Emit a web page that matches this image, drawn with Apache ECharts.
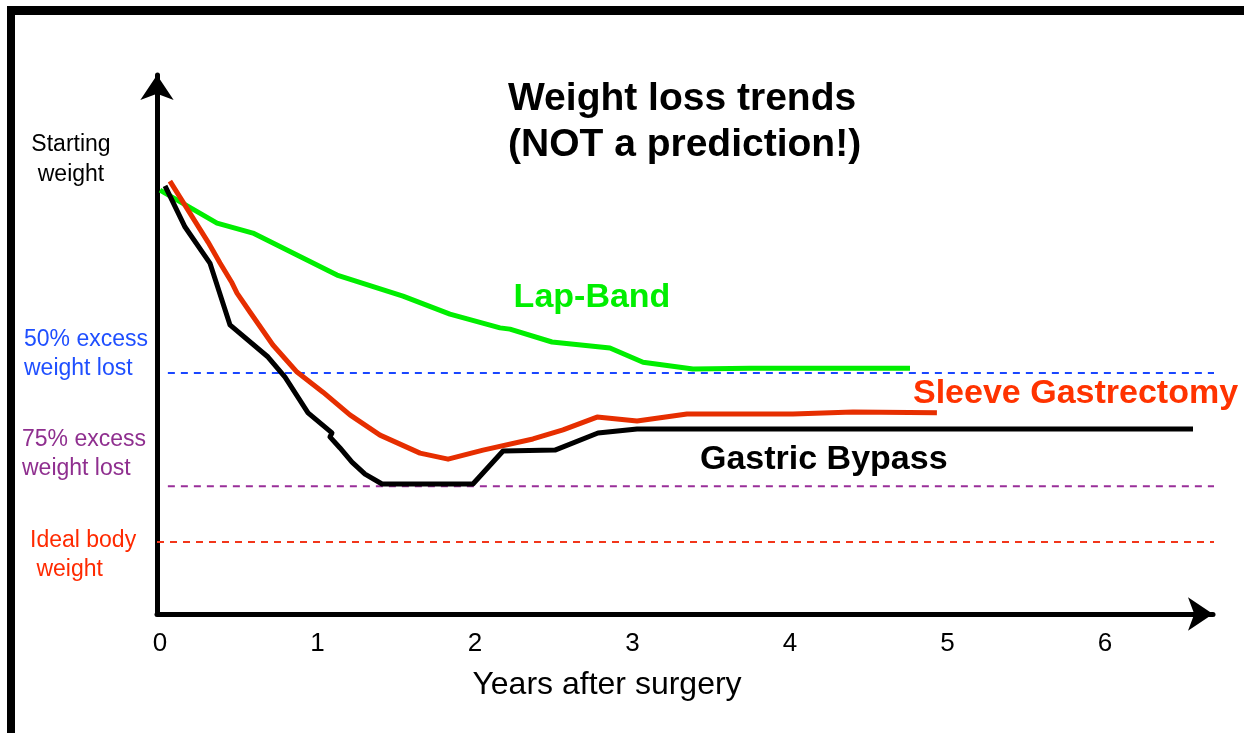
<!DOCTYPE html>
<html><head><meta charset="utf-8">
<script src="https://cdn.jsdelivr.net/npm/echarts@6/dist/echarts.min.js"></script>
<style>html,body{margin:0;padding:0;background:#fff}#c{width:1244px;height:733px}</style>
</head><body><div id="c"></div>
<script>
// ---- data (x: years after surgery, y: relative weight, starting weight ≈ 100) ----
const xTicks = [0, 1, 2, 3, 4, 5, 6];

const lapBandYears  = [0, 0.362, 0.590, 1.124, 1.543, 1.841, 2.159, 2.222, 2.489, 2.857, 3.067, 3.384, 3.746, 4.762];
const lapBandWeight = [98.8, 91.1, 88.8, 79.0, 74.1, 69.9, 66.7, 66.4, 63.4, 62.0, 58.7, 57.1, 57.3, 57.3];

const sleeveYears  = [0.063, 0.305, 0.381, 0.457, 0.489, 0.571, 0.717, 0.870, 1.035, 1.206, 1.397, 1.651, 1.829, 2.051, 2.368, 2.559, 2.775, 3.029, 3.346, 4.019, 4.400, 4.933];
const sleeveWeight = [100.9, 86.7, 81.8, 77.2, 74.8, 70.4, 62.7, 56.4, 51.7, 46.4, 41.7, 37.5, 36.1, 38.2, 40.8, 42.9, 45.9, 45.0, 46.6, 46.6, 47.1, 46.9];

const bypassYears  = [0.032, 0.159, 0.317, 0.444, 0.686, 0.794, 0.940, 1.092, 1.079, 1.143, 1.219, 1.302, 1.410, 1.987, 2.178, 2.508, 2.781, 3.029, 6.559];
const bypassWeight = [99.8, 90.2, 81.8, 67.4, 59.9, 55.2, 46.9, 42.2, 41.3, 38.7, 35.4, 32.6, 30.3, 30.3, 38.0, 38.2, 42.2, 43.1, 43.1];

const refNames  = ['50% excess weight lost', '75% excess weight lost', 'Ideal body weight'];
const refValues = [56.2, 29.8, 16.8];
const refStart  = [0.05, 0.05, -0.019];
const refEnd    = [6.70, 6.70, 6.70];

const seriesNames = ['Lap-Band', 'Sleeve Gastrectomy', 'Gastric Bypass'];

// ---- styles ----
const FONT = "'Liberation Sans', Arial, Helvetica, sans-serif";
const C_GREEN = '#00ee00', C_RED = '#e62e00', C_BLACK = '#000000';
const REF_COLORS = ['#1a47ff', '#992e99', '#f2361a'];
const REF_TEXT = ['#1f4fff', '#8f2f8f', '#ff2a00'];

const zip = (a, b) => a.map((v, i) => [v, b[i]]);

const chart = echarts.init(document.getElementById('c'), null, {renderer: 'canvas'});

const lineSeries = (name, xs, ys, color) => ({
  name, type: 'line', data: zip(xs, ys), symbol: 'none', smooth: false,
  lineStyle: {color, width: 5, join: 'round', cap: 'butt'}, z: 5, animation: false
});

const refSeries = refNames.map((n, i) => ({
  name: n, type: 'line', clip: false, symbol: 'none', silent: true,
  data: [[refStart[i], refValues[i]], [refEnd[i], refValues[i]]],
  lineStyle: {color: REF_COLORS[i], width: 2, type: [7, 6]}, z: 2, animation: false
}));

const txt = (text, x, y, fill, size, weight, align, lh) => ({
  type: 'text', x, y, silent: true,
  style: {text, fill, font: `${weight} ${size}px ${FONT}`, textAlign: align, textVerticalAlign: 'middle', lineHeight: lh || size * 1.25}
});

chart.setOption({
  animation: false,
  backgroundColor: '#ffffff',
  title: {
    text: 'Weight loss trends\n(NOT a prediction!)',
    left: 503, top: 71,
    textStyle: {fontFamily: FONT, fontWeight: 'bold', fontSize: 39, lineHeight: 46, color: '#000'}
  },
  grid: {left: 157, top: 75, right: 31, bottom: 119},
  xAxis: {
    type: 'value', min: -0.019, max: 6.686,
    axisLine: {show: true, onZero: false, symbol: ['none', 'arrow'], symbolSize: [25, 25], lineStyle: {color: '#000', width: 5}},
    axisTick: {show: false},
    splitLine: {show: false},
    axisLabel: {customValues: xTicks, color: '#000', fontFamily: FONT, fontSize: 26, margin: 17, formatter: v => String(v)}
  },
  yAxis: {
    type: 'value', min: 0, max: 125.64,
    axisLine: {show: true, onZero: false, symbol: ['none', 'arrow'], symbolSize: [25, 25], lineStyle: {color: '#000', width: 5}},
    axisTick: {show: false}, axisLabel: {show: false}, splitLine: {show: false}
  },
  series: [
    ...refSeries,
    lineSeries(seriesNames[0], lapBandYears, lapBandWeight, C_GREEN),
    lineSeries(seriesNames[1], sleeveYears, sleeveWeight, C_RED),
    lineSeries(seriesNames[2], bypassYears, bypassWeight, C_BLACK)
  ],
  graphic: [
    {type: 'line', shape: {x1: 7, y1: 10.5, x2: 1244, y2: 10.5}, style: {stroke: '#000', lineWidth: 9}, silent: true},
    {type: 'line', shape: {x1: 11, y1: 6, x2: 11, y2: 733}, style: {stroke: '#000', lineWidth: 8}, silent: true},
    txt('Starting\nweight', 71, 160, '#000', 23, 'normal', 'center', 30),
    txt('50% excess\nweight lost', 24, 354, REF_TEXT[0], 23, 'normal', 'left', 29),
    txt('75% excess\nweight lost', 22, 454, REF_TEXT[1], 23, 'normal', 'left', 29),
    txt('Ideal body\n weight', 30, 555, REF_TEXT[2], 23, 'normal', 'left', 29),
    txt('Years after surgery', 607, 685, '#000', 32, 'normal', 'center'),
    txt(seriesNames[0], 592, 298, C_GREEN, 34, 'bold', 'center'),
    txt(seriesNames[1], 913, 394, '#ff3300', 34, 'bold', 'left'),
    txt(seriesNames[2], 700, 460, '#000', 34, 'bold', 'left')
  ]
});
</script></body></html>
